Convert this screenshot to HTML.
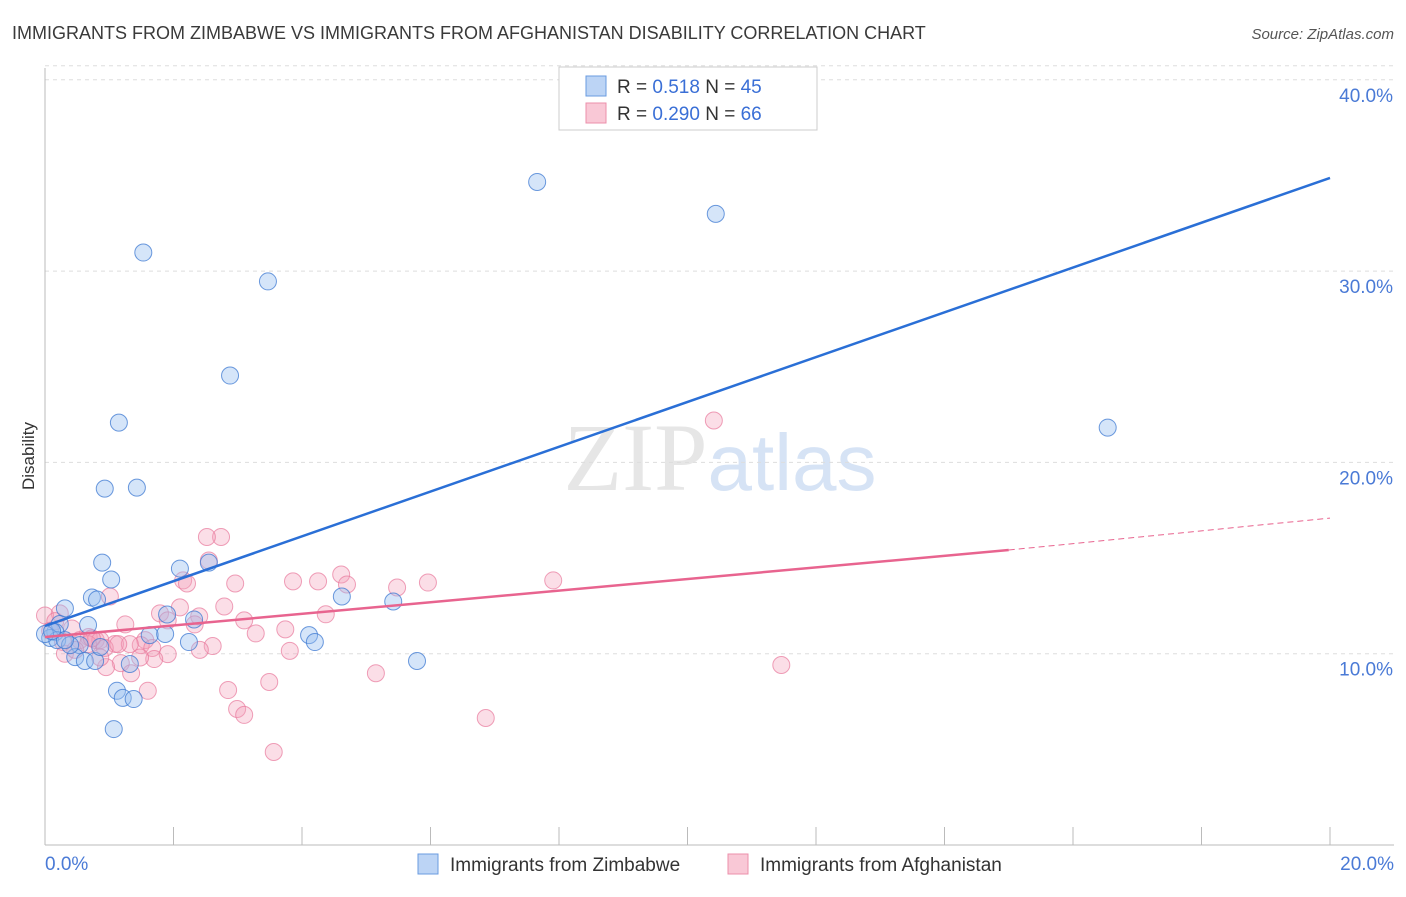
<!DOCTYPE html>
<html><head><meta charset="utf-8"><style>
body{margin:0;background:#fff;font-family:"Liberation Sans",sans-serif;}
svg text{font-family:"Liberation Sans",sans-serif;}
</style></head><body>
<svg id="chart" width="1406" height="892" xmlns="http://www.w3.org/2000/svg">
<text x="12" y="39" font-size="18" fill="#3a3a3a">IMMIGRANTS FROM ZIMBABWE VS IMMIGRANTS FROM AFGHANISTAN DISABILITY CORRELATION CHART</text>
<text x="1394" y="39" font-size="15" font-style="italic" fill="#555" text-anchor="end">Source: ZipAtlas.com</text>
<text x="720" y="490" font-size="96" text-anchor="middle" fill="#e6e6e6"><tspan font-family="Liberation Serif">ZIP</tspan><tspan fill="#d6e3f5" font-size="80">atlas</tspan></text>
<g id="grid"></g><g id="axes"></g><g id="pts"></g><g id="lines"></g>
<text transform="translate(34,456) rotate(-90)" font-size="17" fill="#333" text-anchor="middle">Disability</text>
<g>
<rect x="559" y="67" width="258" height="63" fill="#fff" stroke="#ccc"/>
<rect x="586" y="76" width="20" height="20" fill="#bcd4f5" stroke="#6a9be0"/>
<rect x="586" y="103" width="20" height="20" fill="#f9c8d6" stroke="#ec8fab"/>
<text x="617" y="93" font-size="19" fill="#333">R = <tspan fill="#3a6fd6">0.518</tspan>   N = <tspan fill="#3a6fd6">45</tspan></text>
<text x="617" y="120" font-size="19" fill="#333">R = <tspan fill="#3a6fd6">0.290</tspan>   N = <tspan fill="#3a6fd6">66</tspan></text>
</g>
<g>
<rect x="418" y="854" width="20" height="20" fill="#bcd4f5" stroke="#6a9be0"/>
<text x="450" y="871" font-size="19" fill="#333">Immigrants from Zimbabwe</text>
<rect x="728" y="854" width="20" height="20" fill="#f9c8d6" stroke="#ec8fab"/>
<text x="760" y="871" font-size="19" fill="#333">Immigrants from Afghanistan</text>
</g>
</svg>
<script>
const blueX=[7.66,10.44,1.53,3.47,2.88,1.15,16.54,0.93,1.43,0.89,2.1,1.03,0.73,0.81,0.31,2.55,0.67,0.23,0.16,0.08,0.19,1.9,2.32,1.63,1.87,4.11,4.2,4.62,5.42,2.24,0.54,0.47,0.62,0.78,5.79,1.32,1.12,1.21,1.38,1.07,0.39,0.31,0.86,0.0,0.11];
const blueY=[34.66,32.99,30.97,29.46,24.54,22.08,21.82,18.63,18.68,14.76,14.45,13.88,12.94,12.83,12.37,14.76,11.5,11.55,11.13,10.82,10.71,12.05,11.79,10.97,11.03,10.97,10.61,12.99,12.73,10.61,10.45,9.82,9.62,9.62,9.62,9.46,8.06,7.69,7.63,6.06,10.45,10.71,10.35,11.03,11.18];
const pinkX=[10.41,2.74,2.52,2.55,2.15,2.21,2.96,3.86,4.25,4.61,4.7,5.48,5.96,7.91,1.01,2.79,1.79,2.1,2.4,1.91,2.33,3.1,4.37,1.25,0.68,0.79,1.09,1.56,1.49,1.67,3.28,3.74,0.23,0.42,0.54,0.86,0.93,0.28,2.61,2.41,1.91,1.7,3.81,1.18,0.95,1.34,5.15,11.46,3.49,1.6,2.85,2.99,3.1,6.86,3.56,0.0,0.08,0.16,1.32,0.67,1.14,0.86,0.73,1.48,0.31,0.47];
const pinkY=[22.19,16.1,16.1,14.87,13.83,13.67,13.67,13.78,13.78,14.14,13.62,13.46,13.72,13.83,12.99,12.47,12.11,12.42,11.95,11.74,11.53,11.74,12.06,11.53,10.87,10.71,10.51,10.71,10.45,10.3,11.06,11.27,12.11,11.32,10.71,10.71,10.3,10.61,10.4,10.2,9.98,9.72,10.15,9.51,9.3,8.98,8.98,9.41,8.52,8.06,8.1,7.11,6.8,6.64,4.86,12.0,11.2,11.7,10.5,10.5,10.5,9.8,10.8,9.8,10.0,10.2];
const xTicks=[0,2,4,6,8,10,12,14,16,18,20];
const yTicks=[10,20,30,40];
const blueLine=[[0,11.45],[20,34.87]];
const pinkSolid=[[0,10.87],[15.0,15.42]];
const pinkDash=[[15.0,15.42],[20,17.09]];
const X=v=>45+v*64.25, Y=v=>845-v*19.13;
const NS="http://www.w3.org/2000/svg";
function mk(tag,attrs,parent){const e=document.createElementNS(NS,tag);for(const k in attrs)e.setAttribute(k,attrs[k]);parent.appendChild(e);return e;}
const grid=document.getElementById('grid'),axes=document.getElementById('axes'),pts=document.getElementById('pts'),lines=document.getElementById('lines');
yTicks.forEach(t=>{
 const l=mk('line',{x1:45,x2:1394,y1:Y(t),y2:Y(t),stroke:'#ddd','stroke-dasharray':'4,4'},grid);
 
 
 const tx=mk('text',{x:1393,y:Y(t)+22,'font-size':19,fill:'#4a7ad6','text-anchor':'end'},axes);
 tx.textContent=t.toFixed(1)+'%';
 
 
});
const tg=mk('line',{x1:45,x2:1394,y1:Y(40)-14,y2:Y(40)-14,stroke:'#ddd','stroke-dasharray':'4,4'},grid);


const ax=mk('line',{x1:45,x2:1394,y1:845,y2:845,stroke:'#bbb'},axes);


const ay=mk('line',{x1:45,x2:45,y1:68,y2:845,stroke:'#bbb'},axes);


xTicks.forEach(t=>{
 const l=mk('line',{x1:X(t),x2:X(t),y1:827,y2:845,stroke:'#bbb'},axes);
 
 
});
[[0,'start',45],[20,'end',1394]].forEach(([t,a,x])=>{
 const tx=mk('text',{x:x,y:870,'font-size':19,fill:'#4a7ad6','text-anchor':a},axes);
 tx.textContent=t.toFixed(1)+'%';
 
 
});
pinkX.forEach((v,i)=>{
 const c=mk('circle',{cx:X(v),cy:Y(pinkY[i]),r:8.5,fill:'rgba(244,160,185,0.35)',stroke:'rgba(232,120,155,0.7)','stroke-width':1},pts);
 
 
});
blueX.forEach((v,i)=>{
 const c=mk('circle',{cx:X(v),cy:Y(blueY[i]),r:8.5,fill:'rgba(150,190,240,0.4)',stroke:'rgba(60,120,210,0.75)','stroke-width':1},pts);
 
 
});
const bl=mk('line',{x1:X(blueLine[0][0]),y1:Y(blueLine[0][1]),x2:X(blueLine[1][0]),y2:Y(blueLine[1][1]),stroke:'#2a6fd6','stroke-width':2.5},lines);


const pl=mk('line',{x1:X(pinkSolid[0][0]),y1:Y(pinkSolid[0][1]),x2:X(pinkSolid[1][0]),y2:Y(pinkSolid[1][1]),stroke:'#e8648f','stroke-width':2.5},lines);


const pd=mk('line',{x1:X(pinkDash[0][0]),y1:Y(pinkDash[0][1]),x2:X(pinkDash[1][0]),y2:Y(pinkDash[1][1]),stroke:'#e8648f','stroke-width':1,'stroke-dasharray':'6,4'},lines);


</script>
</body></html>
